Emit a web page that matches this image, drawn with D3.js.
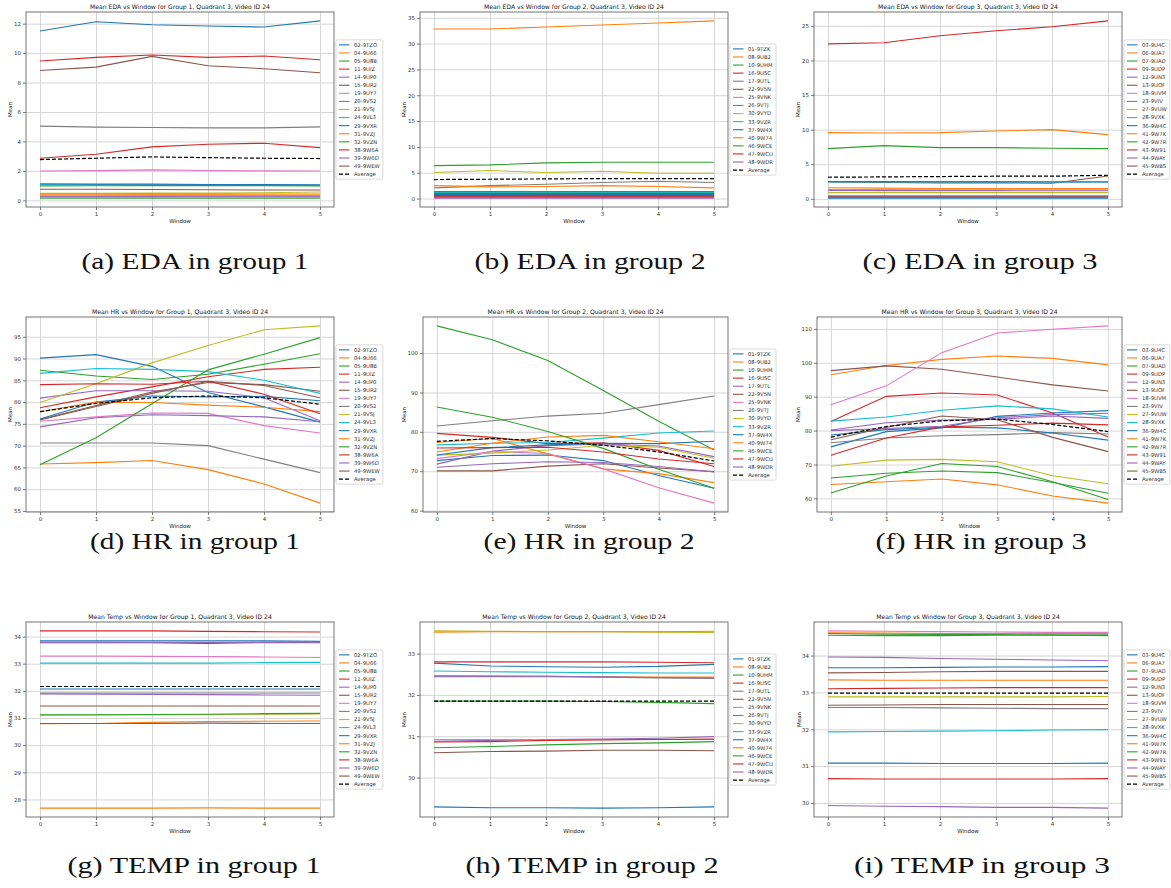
<!DOCTYPE html>
<html><head><meta charset="utf-8">
<script src="https://cdn.jsdelivr.net/npm/d3@7"></script>
<style>body{margin:0;background:#fff}</style>
</head><body><svg id="c" width="1171" height="888"></svg>
<script>
// ---------------- DATA ----------------
const windows = [0, 1, 2, 3, 4, 5];
const xTicks = [0, 1, 2, 3, 4, 5];

const group1Names = ["02-9TZO","04-9U66","05-9U8B","11-9UIZ","14-9UP0","15-9UR2","19-9UY7","20-9VS2","21-9VSJ","24-9VL3","29-9VXR","31-9VZJ","32-9VZN","38-9W6A","39-9W6D","49-9WEW"];
const group2Names = ["01-9TZK","08-9UB2","10-9UHM","16-9USC","17-9UTL","22-9V5N","25-9VNK","26-9VTJ","30-9VYD","33-9VZR","37-9W4X","40-9W74","46-9WCE","47-9WCU","48-9WDR"];
const group3Names = ["03-9U4C","06-9UA7","07-9UAD","09-9UDP","12-9UN3","13-9UOF","18-9UVM","23-9VIV","27-9VUW","28-9VXK","36-9W4C","41-9W7K","42-9W7R","43-9W91","44-9WAY","45-9WBS"];

const edaG1 = [
  [11.50,12.13,11.93,11.84,11.77,12.19],
  [0.38,0.38,0.37,0.37,0.36,0.36],
  [0.15,0.15,0.15,0.15,0.15,0.15],
  [9.46,9.71,9.87,9.71,9.80,9.55],
  [0.30,0.30,0.30,0.29,0.29,0.29],
  [8.82,9.05,9.78,9.14,8.94,8.67],
  [1.99,2.02,2.07,2.03,2.00,1.99],
  [5.04,4.97,4.95,4.92,4.92,4.99],
  [0.48,0.48,0.49,0.50,0.52,0.57],
  [1.08,1.07,1.06,1.05,1.04,1.03],
  [1.13,1.10,1.10,1.08,1.07,1.05],
  [0.45,0.45,0.44,0.44,0.43,0.43],
  [0.98,0.99,1.00,1.00,1.00,0.98],
  [2.86,3.13,3.63,3.81,3.88,3.58],
  [0.25,0.25,0.25,0.24,0.24,0.24],
  [0.75,0.75,0.74,0.72,0.70,0.70]
];
const edaG1Avg = [2.77,2.86,2.95,2.90,2.86,2.84];

const edaG2 = [
  [0.80,0.80,0.81,0.81,0.80,0.80],
  [32.82,32.82,33.20,33.60,34.00,34.40],
  [6.38,6.51,6.90,7.03,7.03,7.03],
  [0.60,0.60,0.61,0.60,0.60,0.59],
  [0.20,0.20,0.20,0.20,0.20,0.20],
  [0.45,0.45,0.45,0.44,0.44,0.44],
  [0.15,0.15,0.15,0.15,0.15,0.15],
  [2.06,2.50,2.77,3.10,3.35,3.10],
  [5.03,5.42,5.03,5.29,4.90,4.90],
  [1.20,1.20,1.20,1.19,1.19,1.19],
  [0.95,0.95,0.96,0.96,0.95,0.95],
  [2.51,2.26,2.32,2.51,2.32,2.06],
  [1.35,1.35,1.35,1.34,1.34,1.34],
  [0.32,0.32,0.32,0.32,0.32,0.32],
  [0.08,0.08,0.08,0.08,0.08,0.08]
];
const edaG2Avg = [3.68,3.74,3.80,3.87,3.87,3.87];

const edaG3 = [
  [0.10,0.10,0.10,0.10,0.10,0.10],
  [1.60,1.55,1.50,1.49,1.49,1.49],
  [7.26,7.69,7.40,7.40,7.30,7.26],
  [0.35,0.35,0.35,0.35,0.35,0.35],
  [0.30,0.30,0.30,0.30,0.30,0.30],
  [2.45,2.35,2.30,2.30,2.25,3.30],
  [1.35,1.33,1.32,1.32,1.31,1.30],
  [0.25,0.25,0.25,0.25,0.25,0.25],
  [0.90,0.90,0.90,0.90,0.90,0.90],
  [2.45,2.45,2.45,2.45,2.45,2.45],
  [2.50,2.48,2.47,2.45,2.44,2.43],
  [9.57,9.52,9.57,9.81,10.00,9.28],
  [0.20,0.20,0.20,0.20,0.20,0.20],
  [22.40,22.55,23.56,24.28,24.86,25.72],
  [1.20,1.19,1.18,1.18,1.17,1.17],
  [0.40,0.40,0.40,0.40,0.40,0.40]
];
const edaG3Avg = [3.12,3.17,3.22,3.27,3.27,3.41];

const hrG1 = [
  [90.1,90.9,88.2,82.2,78.9,75.4],
  [65.8,66.1,66.6,64.5,61.2,56.8],
  [87.3,86.0,85.2,86.4,88.7,91.1],
  [78.7,81.2,83.5,85.8,87.5,88.0],
  [80.9,82.6,82.6,82.5,81.0,75.7],
  [76.0,79.2,82.3,84.5,84.0,82.5],
  [75.6,76.6,77.5,77.4,74.6,72.9],
  [70.6,70.6,70.6,70.0,66.9,63.8],
  [79.9,84.2,89.0,93.0,96.6,97.5],
  [86.6,87.7,87.5,87.0,85.0,82.0],
  [76.1,80.0,81.4,81.2,81.3,80.3],
  [77.8,80.0,79.9,79.3,78.8,77.8],
  [65.6,71.8,79.6,87.4,91.0,94.8],
  [84.0,84.2,84.1,84.8,81.8,77.3],
  [74.3,76.4,77.1,76.9,76.6,75.5],
  [75.9,79.0,82.0,84.8,83.8,81.0]
];
const hrG1Avg = [77.8,79.7,81.0,81.4,81.0,79.5];

const hrG2 = [
  [72.7,74.0,74.1,72.7,68.9,65.7],
  [77.3,78.3,74.4,70.6,69.4,67.1],
  [106.9,103.4,98.1,90.5,82.7,75.4],
  [79.6,78.6,77.0,77.2,75.3,71.2],
  [71.8,75.1,76.5,76.9,76.4,73.7],
  [70.1,70.1,71.3,71.9,70.8,69.9],
  [73.2,75.0,74.5,70.6,65.8,61.9],
  [81.5,82.8,84.0,84.7,86.9,89.1],
  [74.1,74.6,75.4,76.6,76.1,73.3],
  [76.7,77.1,77.3,78.4,79.7,80.2],
  [74.1,76.0,76.7,77.1,77.0,77.6],
  [74.9,77.1,78.7,79.1,77.5,75.7],
  [86.3,83.7,80.1,75.8,70.5,65.7],
  [75.9,76.0,76.1,74.9,73.1,71.9],
  [71.0,71.9,72.4,72.2,71.2,69.8]
];
const hrG2Avg = [77.6,78.3,77.7,76.6,74.9,72.6];

const hrG3 = [
  [75.2,79.7,80.8,84.2,85.2,85.9],
  [96.5,99.2,101.0,102.0,101.3,99.4],
  [66.0,67.4,68.1,67.6,64.7,61.5],
  [82.7,90.1,91.1,90.5,85.2,78.1],
  [80.2,82.3,83.1,83.3,84.3,83.6],
  [97.7,99.1,98.1,95.8,93.5,91.7],
  [87.6,93.2,103.0,108.8,109.9,110.9],
  [76.4,77.8,78.5,78.8,79.4,79.0],
  [69.5,71.3,71.5,70.8,66.7,64.3],
  [82.8,84.0,86.0,87.3,86.4,84.0],
  [78.7,80.3,81.0,80.8,79.3,77.2],
  [64.1,64.9,65.7,64.0,60.7,58.6],
  [61.6,66.6,70.3,69.4,64.9,59.7],
  [72.7,77.8,81.1,81.6,82.2,81.7],
  [80.0,80.6,81.3,83.8,84.7,85.1],
  [77.3,81.0,84.3,83.2,78.0,73.8]
];
const hrG3Avg = [78.1,81.2,82.9,83.4,81.8,79.7];

const tempG1 = [
  [33.84,33.84,33.84,33.84,33.84,33.83],
  [27.68,27.68,27.68,27.69,27.68,27.68],
  [33.79,33.79,33.78,33.78,33.77,33.77],
  [34.21,34.21,34.21,34.19,34.18,34.17],
  [31.89,31.88,31.87,31.86,31.85,31.84],
  [31.44,31.44,31.44,31.44,31.44,31.44],
  [33.28,33.28,33.27,33.26,33.25,33.23],
  [31.92,31.92,31.92,31.92,31.92,31.92],
  [31.10,31.11,31.12,31.13,31.14,31.15],
  [33.02,33.02,33.02,33.02,33.04,33.05],
  [32.07,32.07,32.07,32.07,32.07,32.07],
  [30.79,30.80,30.84,30.87,30.88,30.89],
  [31.12,31.12,31.13,31.14,31.16,31.17],
  [33.77,33.77,33.77,33.75,33.79,33.80],
  [33.78,33.78,33.78,33.78,33.78,33.78],
  [30.80,30.80,30.80,30.81,30.80,30.80]
];
const tempG1Avg = [32.16,32.16,32.16,32.16,32.16,32.16];

const tempG2 = [
  [32.77,32.70,32.68,32.67,32.69,32.74],
  [32.47,32.46,32.45,32.44,32.43,32.43],
  [30.72,30.75,30.79,30.82,30.84,30.87],
  [32.80,32.80,32.80,32.80,32.79,32.78],
  [30.88,30.90,30.92,30.93,30.95,30.99],
  [30.60,30.63,30.64,30.66,30.66,30.65],
  [30.92,30.92,30.92,30.92,30.92,30.92],
  [32.44,32.44,32.44,32.43,32.41,32.40],
  [33.55,33.54,33.53,33.53,33.52,33.51],
  [32.58,32.56,32.55,32.54,32.53,32.53],
  [29.29,29.27,29.27,29.26,29.27,29.29],
  [33.52,33.53,33.53,33.53,33.53,33.54],
  [31.85,31.85,31.85,31.84,31.82,31.79],
  [30.86,30.87,30.90,30.91,30.92,30.93],
  [32.45,32.45,32.45,32.44,32.42,32.41]
];
const tempG2Avg = [31.85,31.85,31.85,31.85,31.85,31.85];

const tempG3 = [
  [33.67,33.67,33.68,33.69,33.69,33.70],
  [34.62,34.61,34.60,34.60,34.60,34.60],
  [34.55,34.54,34.54,34.55,34.55,34.56],
  [33.10,33.11,33.12,33.13,33.13,33.13],
  [33.96,33.95,33.92,33.90,33.88,33.86],
  [33.53,33.54,33.56,33.57,33.57,33.57],
  [34.67,34.66,34.65,34.64,34.63,34.63],
  [32.59,32.59,32.58,32.57,32.56,32.56],
  [32.88,32.88,32.88,32.88,32.88,32.89],
  [31.93,31.94,31.95,31.96,31.98,31.99],
  [31.08,31.08,31.07,31.07,31.07,31.08],
  [33.34,33.33,33.33,33.33,33.33,33.33],
  [34.60,34.58,34.57,34.57,34.56,34.54],
  [30.66,30.65,30.65,30.65,30.65,30.66],
  [29.93,29.91,29.90,29.88,29.88,29.86],
  [32.65,32.66,32.67,32.67,32.67,32.67]
];
const tempG3Avg = [32.98,32.98,32.98,32.98,32.98,32.98];

const edaG1Ticks = [0,2,4,6,8,10,12];
const edaG2Ticks = [0,5,10,15,20,25,30,35];
const edaG3Ticks = [0,5,10,15,20,25];
const hrG1Ticks = [55,60,65,70,75,80,85,90,95];
const hrG2Ticks = [60,70,80,90,100];
const hrG3Ticks = [60,70,80,90,100,110];
const tempG1Ticks = [28,29,30,31,32,33,34];
const tempG2Ticks = [30,31,32,33];
const tempG3Ticks = [30,31,32,33,34];

const titles = [
  "Mean EDA vs Window for Group 1, Quadrant 3, Video ID 24",
  "Mean EDA vs Window for Group 2, Quadrant 3, Video ID 24",
  "Mean EDA vs Window for Group 3, Quadrant 3, Video ID 24",
  "Mean HR vs Window for Group 1, Quadrant 3, Video ID 24",
  "Mean HR vs Window for Group 2, Quadrant 3, Video ID 24",
  "Mean HR vs Window for Group 3, Quadrant 3, Video ID 24",
  "Mean Temp vs Window for Group 1, Quadrant 3, Video ID 24",
  "Mean Temp vs Window for Group 2, Quadrant 3, Video ID 24",
  "Mean Temp vs Window for Group 3, Quadrant 3, Video ID 24"
];
const captions = ["(a) EDA in group 1","(b) EDA in group 2","(c) EDA in group 3",
  "(d) HR in group 1","(e) HR in group 2","(f) HR in group 3",
  "(g) TEMP in group 1","(h) TEMP in group 2","(i) TEMP in group 3"];

// ---------------- LAYOUT ----------------
const panels = [
  {names: group1Names, series: edaG1, avg: edaG1Avg, ticks: edaG1Ticks},
  {names: group2Names, series: edaG2, avg: edaG2Avg, ticks: edaG2Ticks},
  {names: group3Names, series: edaG3, avg: edaG3Avg, ticks: edaG3Ticks},
  {names: group1Names, series: hrG1, avg: hrG1Avg, ticks: hrG1Ticks},
  {names: group2Names, series: hrG2, avg: hrG2Avg, ticks: hrG2Ticks},
  {names: group3Names, series: hrG3, avg: hrG3Avg, ticks: hrG3Ticks},
  {names: group1Names, series: tempG1, avg: tempG1Avg, ticks: tempG1Ticks},
  {names: group2Names, series: tempG2, avg: tempG2Avg, ticks: tempG2Ticks},
  {names: group3Names, series: tempG3, avg: tempG3Avg, ticks: tempG3Ticks}
];
const frames = [
  {l:26,  r:334,  t:12,  b:207, yl:10,  cx:195, cy:269, cw:227},
  {l:420, r:728,  t:12,  b:207, yl:404, cx:590, cy:269, cw:231},
  {l:814, r:1122, t:12,  b:207, yl:798, cx:980, cy:269, cw:235},
  {l:26,  r:334,  t:317, b:512, yl:10,  cx:195, cy:549, cw:210},
  {l:423, r:728,  t:317, b:512, yl:404, cx:589, cy:549, cw:211},
  {l:817, r:1122, t:317, b:512, yl:798, cx:981, cy:549, cw:211},
  {l:26,  r:334,  t:622, b:817, yl:10,  cx:194, cy:873, cw:253},
  {l:420, r:728,  t:622, b:817, yl:404, cx:592, cy:873, cw:253},
  {l:814, r:1122, t:622, b:817, yl:799, cx:982, cy:873, cw:256}
];

const svg = d3.select("#c");
svg.append("rect").attr("width",1171).attr("height",888).attr("fill","#fff");
const colors = d3.schemeCategory10;
const SANS = "DejaVu Sans, sans-serif";

panels.forEach((p, k) => {
  const f = frames[k];
  const all = p.series.flat().concat(p.avg);
  const mn = d3.min(all), mx = d3.max(all), rg = mx - mn;
  const x = d3.scaleLinear().domain([-0.25, 5.25]).range([f.l, f.r]);
  const y = d3.scaleLinear().domain([mn - 0.05*rg, mx + 0.05*rg]).range([f.b, f.t]);
  const g = svg.append("g");

  // grid
  const gx = g.append("g").attr("transform",`translate(0,${f.b})`)
    .call(d3.axisBottom(x).tickValues(xTicks).tickSize(-(f.b-f.t)).tickFormat(""));
  const gy = g.append("g").attr("transform",`translate(${f.l},0)`)
    .call(d3.axisLeft(y).tickValues(p.ticks).tickSize(-(f.r-f.l)).tickFormat(""));
  [gx, gy].forEach(a => { a.select(".domain").remove();
    a.selectAll("line").attr("stroke","#d6d6d6").attr("stroke-width",1); });

  // clip
  const cid = "clip"+k;
  g.append("clipPath").attr("id",cid).append("rect")
    .attr("x",f.l).attr("y",f.t).attr("width",f.r-f.l).attr("height",f.b-f.t);

  const line = d3.line().x((d,i)=>x(windows[i])).y(d=>y(d));
  const lg = g.append("g").attr("clip-path",`url(#${cid})`);
  p.series.forEach((s,i) => {
    lg.append("path").attr("d", line(s)).attr("fill","none")
      .attr("stroke", colors[i%10]).attr("stroke-width",1.1);
  });
  lg.append("path").attr("d", line(p.avg)).attr("fill","none")
    .attr("stroke","#000").attr("stroke-width",1.2).attr("stroke-dasharray","4,2");

  // axes
  const ax = g.append("g").attr("transform",`translate(0,${f.b})`)
    .call(d3.axisBottom(x).tickValues(xTicks).tickSize(3).tickPadding(2).tickFormat(d3.format("d")));
  const ay = g.append("g").attr("transform",`translate(${f.l},0)`)
    .call(d3.axisLeft(y).tickValues(p.ticks).tickSize(3).tickPadding(2).tickFormat(d3.format("d")));
  [ax, ay].forEach(a => { a.select(".domain").remove();
    a.selectAll("line").attr("stroke","#444").attr("stroke-width",0.7);
    a.selectAll("text").attr("font-family",SANS).attr("font-size",5.5).attr("fill","#333"); });

  // frame
  g.append("rect").attr("x",f.l).attr("y",f.t).attr("width",f.r-f.l).attr("height",f.b-f.t)
    .attr("fill","none").attr("stroke","#666").attr("stroke-width",0.9);

  // labels
  g.append("text").attr("x",(f.l+f.r)/2).attr("y",f.t-3).attr("text-anchor","middle")
    .attr("font-family",SANS).attr("font-size",6.1).attr("fill","#222").text(titles[k]);
  g.append("text").attr("x",(f.l+f.r)/2).attr("y",f.b+16).attr("text-anchor","middle")
    .attr("font-family",SANS).attr("font-size",5.5).attr("fill","#222").text("Window");
  g.append("text").attr("transform",`translate(${f.yl+2},${(f.t+f.b)/2}) rotate(-90)`)
    .attr("text-anchor","middle").attr("font-family",SANS).attr("font-size",5.5)
    .attr("fill","#222").text("Mean");

  // legend
  const entries = p.names.map((n,i)=>({n, c: colors[i%10], dash:null}))
    .concat([{n:"Average", c:"#000", dash:"4,2"}]);
  const sp = 8.08, n = entries.length;
  const H = (n-1)*sp + 10;
  const L = g.append("g").attr("transform",`translate(${f.r+2},${(f.t+f.b)/2 - H/2})`);
  const box = L.append("rect").attr("rx",1.5).attr("fill","#fff").attr("fill-opacity",0.85)
    .attr("stroke","#d0d0d0").attr("stroke-width",0.8).attr("height",H);
  let maxW = 0;
  entries.forEach((e,i) => {
    const yy = 5 + i*sp;
    L.append("line").attr("x1",3).attr("x2",13.5).attr("y1",yy).attr("y2",yy)
      .attr("stroke",e.c).attr("stroke-width",e.dash?1.2:1.1).attr("stroke-dasharray",e.dash);
    const t = L.append("text").attr("x",18).attr("y",yy+1.9).attr("font-family",SANS)
      .attr("font-size",5.3).attr("fill","#333").text(e.n);
    maxW = Math.max(maxW, t.node().getComputedTextLength());
  });
  box.attr("width", 18 + maxW + 3);

  // caption
  svg.append("text").attr("x",f.cx).attr("y",f.cy).attr("text-anchor","middle")
    .attr("font-family","Liberation Serif, serif").attr("font-size",24).attr("fill","#111")
    .attr("textLength",f.cw).attr("lengthAdjust","spacingAndGlyphs").text(captions[k]);
});
</script></body></html>
